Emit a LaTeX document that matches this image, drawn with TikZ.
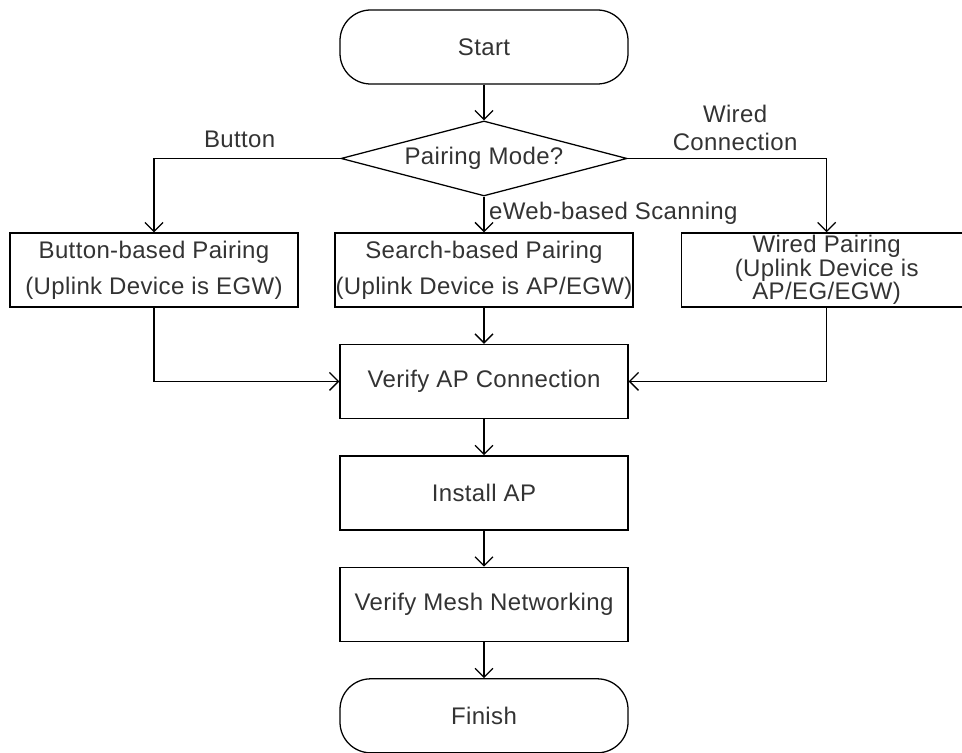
\documentclass[tikz,border=0pt]{standalone}
\usepackage{fontspec}
\setmainfont{Liberation Sans}[LetterSpace=1.5]
\usetikzlibrary{positioning, shapes.geometric, arrows.meta}

\begin{document}
\begin{tikzpicture}[node distance=83.6pt,on grid,line width=0.95pt,
	>={Straight Barb[length=6.75pt,width=13.5pt]},
	every node/.style={font=\fontsize{18pt}{27pt}\selectfont, text=black!80},
	term/.style={draw, rectangle, rounded corners=23pt, minimum width=216pt, minimum height=55.5pt},
	proc/.style={draw, rectangle, align=center, inner sep=0pt, minimum width=216pt, minimum height=55.5pt},
	decide/.style={draw, diamond, aspect=3.8, inner sep=0pt, minimum width=214.5pt, minimum height=56.25pt}]
			\useasboundingbox (0,0) rectangle (721.5pt,-564pt);
			\node[term] (start) at (363pt,-35.25pt)		{Start};
			\node[decide] (mode) [below=of start]		{Pairing Mode?};
			\node[proc, minimum width=223.5pt] (search) [below=of mode]	{Search-based Pairing\\(Uplink Device is AP/EGW)};
			\node[proc] (button) [left=247.5pt of search]	{Button-based Pairing\\(Uplink Device is EGW)};
			\node[proc, minimum width=217.5pt, font=\fontsize{18pt}{17.6pt}\selectfont] (wired) [right=257pt of search]	{Wired Pairing\\(Uplink Device is\\AP/EG/EGW)};
			\node[proc] (verify) [below=of search]		{Verify AP Connection};
			\node[proc] (install) [below=of verify]		{Install AP};
			\node[proc] (mesh) [below=of install]		{Verify Mesh Networking};
			\node[term] (finish) [below=of mesh]		{Finish};
			% branches of the decision
			\draw[->] (mode.west) -| node [above=4pt, pos=0.27] {Button} (button.north);
			\draw[->] (mode.east) -| node [above=2pt, pos=0.27, align=center, font=\fontsize{18pt}{21pt}\selectfont] {Wired\\Connection} (wired.north);
			\draw[->] (mode.south) -- node [right, pos=0.46] {eWeb-based Scanning} (search.north);
			% merge into verification
			\draw[->] (button.south) |- (verify.west);
			\draw[->] (wired.south) |- (verify.east);
			\path[->] 	(start) edge (mode)
						(search) edge (verify)
						(verify) edge (install)
						(install) edge (mesh)
						(mesh) edge (finish);
	\end{tikzpicture}
\end{document}
